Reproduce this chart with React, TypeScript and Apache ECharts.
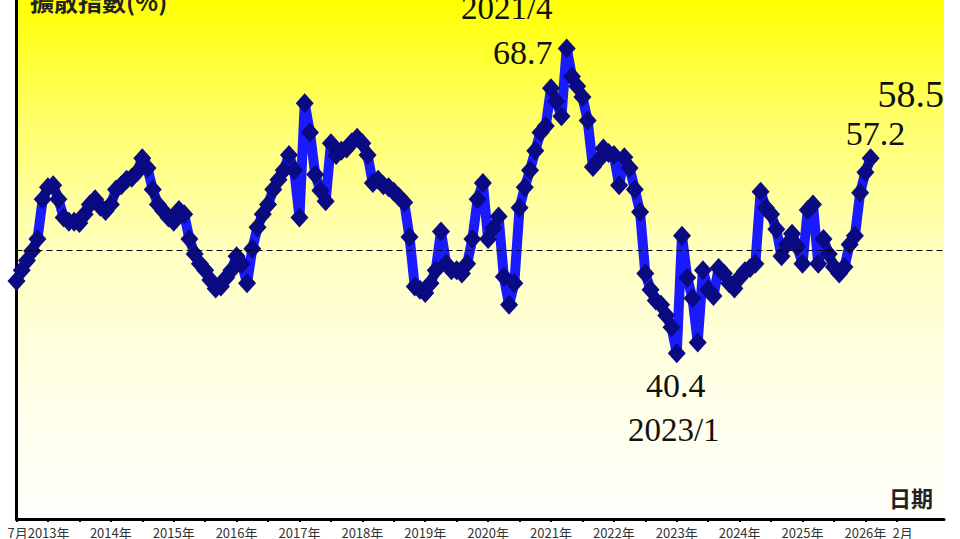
import { useEffect, useRef } from 'react';
import * as echarts from 'echarts';

// Monthly categories from 2012/7; the axis runs past the data to 2027/4
const START_YEAR = 2012;
const START_MONTH = 7;
const AXIS_MONTHS = 178;
const months: string[] = Array.from({ length: AXIS_MONTHS }, (_, i) => {
  const m = START_MONTH - 1 + i;
  return `${START_YEAR + Math.floor(m / 12)}/${(m % 12) + 1}`;
});

// 擴散指數 (%), 2012/7 – 2026/2
const values: number[] = [
  47.1, 48.1, 49.0, 49.9, 51.0, 54.7, 55.8, 56.0, 54.7, 53.0, 52.6, 52.6,
  52.5, 53.3, 54.2, 54.7, 54.0, 53.6, 54.2, 55.6, 56.0, 56.5, 56.7, 57.2,
  58.5, 57.6, 55.6, 54.2, 53.6, 53.0, 52.6, 53.7, 53.3, 51.0, 49.6, 48.7,
  48.1, 47.2, 46.4, 46.6, 47.4, 48.1, 49.4, 48.7, 46.9, 50.1, 52.1, 53.3,
  54.2, 55.6, 56.5, 57.4, 58.8, 57.4, 53.0, 63.6, 60.9, 57.0, 55.5, 54.5,
  59.9, 58.8, 59.2, 59.4, 60.0, 60.4, 59.9, 58.8, 56.2, 56.5, 56.0, 55.8,
  55.4, 54.9, 54.4, 51.2, 46.6, 46.3, 46.0, 46.9, 48.1, 51.7, 48.7, 48.1,
  48.1, 47.8, 48.7, 51.0, 54.7, 56.2, 51.0, 52.0, 53.1, 47.5, 44.9, 46.9,
  53.9, 55.8, 57.4, 59.2, 60.9, 61.5, 65.0, 63.8, 62.4, 68.7, 66.1, 65.2,
  64.2, 62.0, 57.7, 58.3, 59.4, 59.0, 58.8, 56.0, 58.6, 57.6, 55.6, 53.5,
  47.8, 46.3, 45.3, 44.9, 43.9, 42.8, 40.4, 51.3, 47.4, 45.5, 41.4, 48.1,
  46.3, 45.7, 48.3, 47.8, 46.9, 46.4, 47.4, 48.0, 48.3, 48.7, 55.4, 53.9,
  53.3, 51.9, 49.4, 50.5, 51.5, 50.3, 48.7, 53.7, 54.2, 48.7, 51.0, 49.6,
  48.4, 47.8, 48.4, 50.5, 51.3, 55.3, 57.2, 58.5,
];

const LAST_INDEX = values.length - 1;
const PEAK_INDEX = 105; // 2021/4
const TROUGH_INDEX = 126; // 2023/1
const REFERENCE_LEVEL = 50;

const FIRST_LABEL = '7月2013年';
const LAST_LABEL = '2月';
const YEAR_SUFFIX = '年';
const Y_TITLE = '擴散指數(%)';
const X_TITLE = '日期';

const CJK = '"Noto Sans CJK TC", "Noto Sans CJK SC", sans-serif';
const SERIF = '"Liberation Serif", "DejaVu Serif", serif';

export default function App() {
  const ref = useRef<HTMLDivElement>(null);

  useEffect(() => {
    if (!ref.current) return;
    const chart = echarts.init(ref.current, undefined, { renderer: 'svg' });

    const noteLabel = (text: string, offset: number[], size = 34) => ({
      show: true,
      position: 'inside',
      formatter: text,
      offset,
      fontFamily: SERIF,
      fontSize: size,
      color: '#111',
    });

    const showLabel = (i: number) =>
      i === 0 || i === LAST_INDEX || (i > 6 && months[i].endsWith('/1'));

    chart.setOption({
      animation: false,
      backgroundColor: '#ffffff',
      grid: {
        left: 16.5,
        right: 16,
        top: 0,
        bottom: 17.5,
        show: true,
        borderWidth: 0,
        backgroundColor: new echarts.graphic.LinearGradient(0, 0, 0, 1, [
          { offset: 0, color: '#FFFF00' },
          { offset: 0.22, color: '#FFFF66' },
          { offset: 0.5, color: '#FFFFC4' },
          { offset: 0.75, color: '#FFFFE8' },
          { offset: 1, color: '#FFFFFB' },
        ]),
      },
      xAxis: {
        type: 'category',
        data: months,
        boundaryGap: false,
        axisLine: { show: true, onZero: false, lineStyle: { color: '#000', width: 3 } },
        axisTick: {
          show: true,
          interval: (i: number) => i % 6 === 0,
          length: 3,
          lineStyle: { color: '#000', width: 2 },
        },
        splitLine: { show: false },
        axisLabel: {
          interval: (i: number) => showLabel(i),
          showMinLabel: true,
          hideOverlap: false,
          margin: 7,
          fontFamily: CJK,
          fontSize: 13,
          color: '#333',
          formatter: (v: string, i: number) => {
            if (i === 0) return `{first|${FIRST_LABEL}}`;
            if (i === LAST_INDEX) return `{last|${LAST_LABEL}}`;
            return `${v.split('/')[0]}${YEAR_SUFFIX}`;
          },
          rich: {
            first: { padding: [0, 0, 0, 44], fontFamily: CJK, fontSize: 13, color: '#333' },
            last: { padding: [0, 0, 0, 64], fontFamily: CJK, fontSize: 13, color: '#333' },
          },
        },
      },
      yAxis: {
        type: 'value',
        min: 25,
        max: 73.2,
        axisLine: { show: true, lineStyle: { color: '#000', width: 3 } },
        axisTick: { show: false },
        axisLabel: { show: false },
        splitLine: { show: false },
      },
      graphic: [
        {
          type: 'text',
          left: 30,
          top: -12,
          style: {
            text: Y_TITLE,
            fontFamily: CJK,
            fontSize: 24,
            fontWeight: 'bold',
            fill: '#222',
          },
          z: 10,
        },
        {
          type: 'text',
          left: 889,
          top: 486,
          style: {
            text: X_TITLE,
            fontFamily: CJK,
            fontSize: 22,
            fontWeight: 'bold',
            fill: '#222',
          },
          z: 10,
        },
      ],
      series: [
        {
          type: 'line',
          data: [],
          z: 1,
          silent: true,
          markLine: {
            silent: true,
            symbol: ['none', 'none'],
            label: { show: false },
            lineStyle: { type: [6, 4], color: '#000', width: 1 },
            data: [{ yAxis: REFERENCE_LEVEL }],
          },
        },
        {
          type: 'line',
          data: values,
          z: 3,
          symbol: 'diamond',
          symbolSize: [18, 20],
          showAllSymbol: true,
          itemStyle: { color: '#0a0a82' },
          lineStyle: { color: '#1a1aff', width: 10 },
          markPoint: {
            symbol: 'circle',
            symbolSize: 1,
            itemStyle: { color: 'rgba(0,0,0,0)' },
            silent: true,
            data: [
              {
                coord: [months[PEAK_INDEX], values[PEAK_INDEX]],
                label: noteLabel(months[PEAK_INDEX], [-60, -40], 33),
              },
              {
                coord: [months[PEAK_INDEX], values[PEAK_INDEX]],
                label: noteLabel(values[PEAK_INDEX].toFixed(1), [-44, 4]),
              },
              {
                coord: [months[TROUGH_INDEX], values[TROUGH_INDEX]],
                label: noteLabel(values[TROUGH_INDEX].toFixed(1), [-1, 32]),
              },
              {
                coord: [months[TROUGH_INDEX], values[TROUGH_INDEX]],
                label: noteLabel(months[TROUGH_INDEX], [-3, 77], 33),
              },
              {
                coord: [months[LAST_INDEX - 1], values[LAST_INDEX - 1]],
                label: noteLabel(values[LAST_INDEX - 1].toFixed(1), [10, -39]),
              },
              {
                coord: [months[LAST_INDEX], values[LAST_INDEX]],
                label: noteLabel(values[LAST_INDEX].toFixed(1), [40, -64], 38),
              },
            ],
          },
        },
      ],
    });

    return () => chart.dispose();
  }, []);

  return (
    <div
      ref={ref}
      style={{ position: 'fixed', left: 0, top: 0, width: 960, height: 539, background: '#fff' }}
    />
  );
}
